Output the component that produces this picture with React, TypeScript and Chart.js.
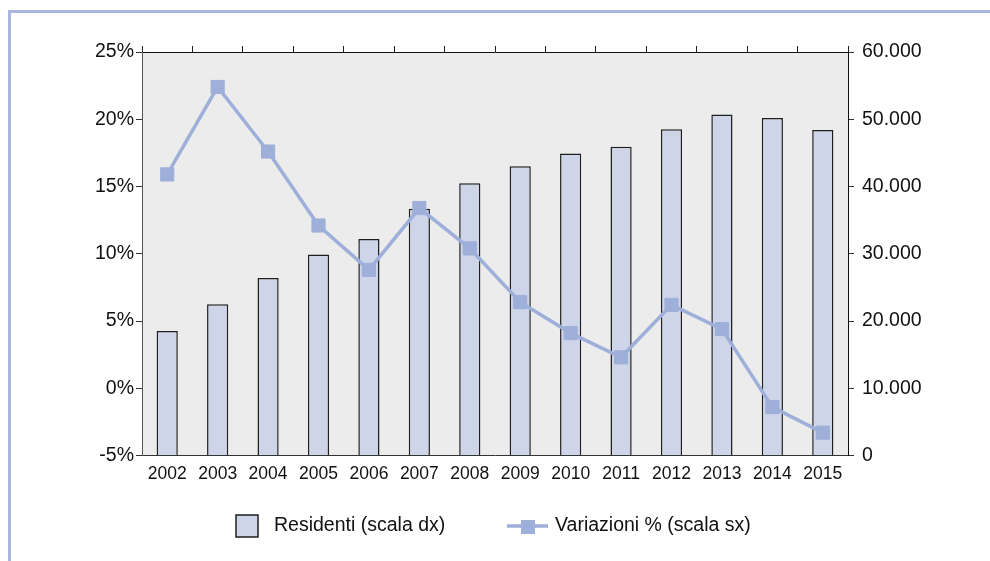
import React, { useEffect, useRef } from "react";
import { Chart, registerables } from "chart.js";

Chart.register(...registerables);

const years = ["2002", "2003", "2004", "2005", "2006", "2007", "2008", "2009", "2010", "2011", "2012", "2013", "2014", "2015"];
const residenti = [18500, 22500, 26400, 29900, 32200, 36700, 40500, 43000, 44900, 45900, 48500, 50700, 50200, 48400];
const variazioni = [15.9, 22.4, 17.6, 12.1, 8.8, 13.4, 10.4, 6.4, 4.1, 2.3, 6.2, 4.4, -1.4, -3.3];
const leftTicks = [-5, 0, 5, 10, 15, 20, 25];
const rightTicks = [0, 10000, 20000, 30000, 40000, 50000, 60000];
const labelResidenti = "Residenti (scala dx)";
const labelVariazioni = "Variazioni % (scala sx)";

const FONT = "'Liberation Sans', Arial, Helvetica, sans-serif";
const LINE_COLOR = "#9eafd9";
const BAR_FILL = "#cfd5e9";
const BAR_BORDER = "#1e1e1e";

function fmtThousands(v: number): string {
  const s = Math.round(v).toString();
  return s.replace(/\B(?=(\d{3})+(?!\d))/g, ".");
}

const framePlugin = {
  id: "frameAndBg",
  beforeDraw(chart: any) {
    const { ctx, chartArea } = chart;
    ctx.save();
    ctx.fillStyle = "#ffffff";
    ctx.fillRect(0, 0, chart.width, chart.height);
    ctx.fillStyle = "#a9b6dd";
    ctx.fillRect(8, 10, chart.width - 8, 3);
    ctx.fillRect(8, 10, 3, chart.height - 10);
    ctx.fillStyle = "#ececec";
    ctx.fillRect(chartArea.left, chartArea.top, chartArea.right - chartArea.left, chartArea.bottom - chartArea.top);
    ctx.restore();
  },
};

const legendPlugin = {
  id: "customLegend",
  afterDraw(chart: any) {
    const { ctx } = chart;
    const ds = chart.data.datasets;
    const barDs = ds.find((d: any) => d.type === "bar");
    const lineDs = ds.find((d: any) => d.type === "line");
    const cy = 526;
    ctx.save();
    ctx.font = `19.5px ${FONT}`;
    ctx.textBaseline = "middle";
    ctx.fillStyle = "#111";
    // bar legend
    ctx.fillStyle = barDs.backgroundColor;
    ctx.fillRect(236, 515, 22, 22);
    ctx.strokeStyle = BAR_BORDER;
    ctx.lineWidth = 1.5;
    ctx.strokeRect(236, 515, 22, 22);
    ctx.fillStyle = "#111";
    ctx.fillText(barDs.label, 274, cy);
    // line legend
    ctx.strokeStyle = lineDs.borderColor;
    ctx.lineWidth = 3.5;
    ctx.beginPath();
    ctx.moveTo(507, cy);
    ctx.lineTo(548, cy);
    ctx.stroke();
    ctx.fillStyle = lineDs.borderColor;
    ctx.fillRect(521, cy - 6, 14, 14);
    ctx.fillStyle = "#111";
    ctx.fillText(lineDs.label, 555, cy);
    ctx.restore();
  },
};

export default function App() {
  const ref = useRef<HTMLCanvasElement | null>(null);

  useEffect(() => {
    document.body.style.margin = "0";
    document.body.style.overflow = "hidden";
    const canvas = ref.current;
    if (!canvas) return;
    const chart = new Chart(canvas, {
      type: "bar",
      data: {
        labels: years,
        datasets: [
          {
            type: "line",
            label: labelVariazioni,
            data: variazioni,
            yAxisID: "y",
            xAxisID: "x",
            borderColor: LINE_COLOR,
            backgroundColor: LINE_COLOR,
            borderWidth: 3.5,
            pointStyle: "rect",
            pointRadius: 9.3,
            pointBorderWidth: 1,
            pointBackgroundColor: LINE_COLOR,
            pointBorderColor: LINE_COLOR,
            tension: 0,
            order: 0,
          } as any,
          {
            type: "bar",
            label: labelResidenti,
            data: residenti,
            yAxisID: "y1",
            xAxisID: "x",
            backgroundColor: BAR_FILL,
            borderColor: BAR_BORDER,
            borderWidth: 1.5,
            barPercentage: 0.42,
            categoryPercentage: 1,
            order: 1,
          } as any,
        ],
      },
      options: {
        responsive: false,
        animation: false,
        devicePixelRatio: 1,
        layout: { padding: 0 },
        plugins: {
          legend: { display: false },
          tooltip: { enabled: false },
          title: { display: false },
        },
        scales: {
          x: {
            type: "category",
            position: "bottom",
            offset: true,
            grid: { display: true, drawOnChartArea: false, drawTicks: false, offset: true, color: "#222" },
            border: { display: true, color: "#333", width: 1 },
            ticks: {
              color: "#111",
              font: { family: FONT, size: 17.5 },
              padding: 8,
              maxRotation: 0,
              autoSkip: false,
            },
            afterFit: (s: any) => {
              s.height = 105.5;
            },
          },
          xTop: {
            type: "category",
            position: "top",
            labels: years,
            offset: true,
            grid: { display: true, drawOnChartArea: false, drawTicks: true, tickLength: 6, offset: true, color: "#222" },
            border: { display: true, color: "#111", width: 1 },
            ticks: { display: false },
            afterFit: (s: any) => {
              s.height = 52;
            },
          },
          y: {
            type: "linear",
            position: "left",
            min: leftTicks[0],
            max: leftTicks[leftTicks.length - 1],
            afterBuildTicks: (s: any) => {
              s.ticks = leftTicks.map((v) => ({ value: v }));
            },
            ticks: {
              color: "#111",
              font: { family: FONT, size: 19.5 },
              padding: 2,
              callback: (v: any) => `${v}%`,
            },
            grid: { drawOnChartArea: false, drawTicks: true, tickLength: 6, color: "#333" },
            border: { display: true, color: "#555", width: 1 },
            afterFit: (s: any) => {
              s.width = 142;
            },
          },
          y1: {
            type: "linear",
            position: "right",
            min: rightTicks[0],
            max: rightTicks[rightTicks.length - 1],
            afterBuildTicks: (s: any) => {
              s.ticks = rightTicks.map((v) => ({ value: v }));
            },
            ticks: {
              color: "#111",
              font: { family: FONT, size: 19.5 },
              padding: 8,
              callback: (v: any) => fmtThousands(Number(v)),
            },
            grid: { drawOnChartArea: false, drawTicks: true, tickLength: 6, color: "#333" },
            border: { display: true, color: "#111", width: 1 },
            afterFit: (s: any) => {
              s.width = 142;
            },
          },
        },
      } as any,
      plugins: [framePlugin, legendPlugin],
    });
    return () => chart.destroy();
  }, []);

  return (
    <div style={{ width: 990, height: 561, position: "relative" }}>
      <canvas ref={ref} width={990} height={561} style={{ display: "block", width: 990, height: 561 }} />
    </div>
  );
}
